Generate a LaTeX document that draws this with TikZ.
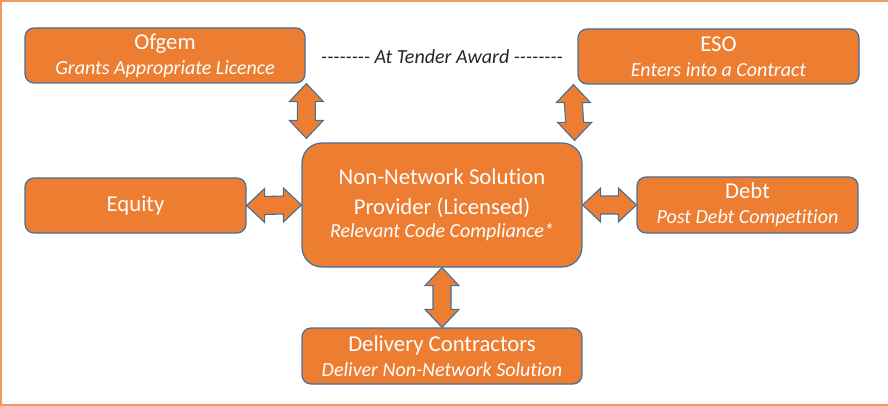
\documentclass[tikz,border=0pt]{standalone}
\usepackage{fontspec}
\setmainfont[Ligatures=NoCommon]{Carlito}
\usetikzlibrary{calc}

\definecolor{boxfill}{HTML}{ED7D31}
\definecolor{boxline}{HTML}{41719C}
\definecolor{framec}{HTML}{F19A5B}
\definecolor{labelc}{HTML}{262626}

\newcommand{\titlef}{\fontsize{22.7}{30}\selectfont}
\newcommand{\subf}{\fontsize{20}{24}\selectfont\itshape}

\tikzset{pbox/.style = {shape = rectangle,
                        rounded corners = 9pt,
                        fill = boxfill,
                        draw = boxline,
                        line width = 1.2pt,
                        text = white,
                        font = \titlef,
                        align = center,
                        inner sep = 0pt},
         barrow/.style = {fill = boxfill,
                          draw = boxline,
                          line width = 1.1pt,
                          line join = miter}}

% vertical block arrow, tips at #1 (top) and #2 (bottom)
\newcommand{\vbarrow}[2]{%
  \draw[barrow] (#1) -- ($(#1)+(17,18)$) -- ($(#1)+(9,18)$) -- ($(#2)+(9,-18)$)
    -- ($(#2)+(17,-18)$) -- (#2) -- ($(#2)+(-17,-18)$) -- ($(#2)+(-9,-18)$)
    -- ($(#1)+(-9,18)$) -- ($(#1)+(-17,18)$) -- cycle;}
% horizontal block arrow, tips at #1 (left) and #2 (right)
\newcommand{\hbarrow}[2]{%
  \draw[barrow] (#1) -- ($(#1)+(18,-17)$) -- ($(#1)+(18,-9)$) -- ($(#2)+(-18,-9)$)
    -- ($(#2)+(-18,-17)$) -- (#2) -- ($(#2)+(-18,17)$) -- ($(#2)+(-18,9)$)
    -- ($(#1)+(18,9)$) -- ($(#1)+(18,17)$) -- cycle;}

\begin{document}
\begin{tikzpicture}[x=1pt,y=-1pt]
		\useasboundingbox (0,0) rectangle (888,406);
		% frame
		\draw[framec, line width=1.6pt] (888,1) -- (1,1) -- (1,405) -- (888,405);

		\node[pbox, minimum width=280pt, minimum height=55pt] (ofgem) at (165,55.5)
			{Ofgem\\[-5pt]{\subf Grants Appropriate Licence}};
		\node[pbox, minimum width=281pt, minimum height=55pt] (eso) at (718.5,56.5)
			{ESO\\[-5pt]{\subf Enters into a Contract}};
		\node[pbox, rounded corners=20pt, minimum width=280pt, minimum height=124pt] (nnsp) at (442,205)
			{Non-Network Solution\\Provider (Licensed)\\[-7pt]{\subf Relevant Code Compliance*}};
		\node[pbox, minimum width=221pt, minimum height=55pt] (equity) at (135.5,205.5)
			{Equity};
		\node[pbox, minimum width=221pt, minimum height=56pt] (debt) at (747.5,205)
			{Debt\\[-5pt]{\subf Post Debt Competition}};
		\node[pbox, minimum width=280pt, minimum height=56pt] (deliv) at (442,356)
			{Delivery Contractors\\[-5pt]{\subf Deliver Non-Network Solution}};

		\node[text=labelc, font=\subf] (tender) at (442,57)
			{-{}-{}-{}-{}-{}-{}-{}- At Tender Award -{}-{}-{}-{}-{}-{}-{}-};

		\coordinate (o1) at ([xshift=5pt]ofgem.south -| nnsp.west);
		\coordinate (o2) at ([xshift=5pt,yshift=4pt]nnsp.north west);
		\coordinate (e1) at ([xshift=-4pt]eso.south west);
		\coordinate (e2) at ([xshift=-8pt,yshift=2pt]nnsp.north east);
		\vbarrow{o1}{o2}
		\vbarrow{e1}{e2}
		\vbarrow{nnsp.south}{deliv.north}
		\hbarrow{equity.east}{nnsp.west}
		\hbarrow{nnsp.east}{debt.west}
	\end{tikzpicture}
\end{document}
